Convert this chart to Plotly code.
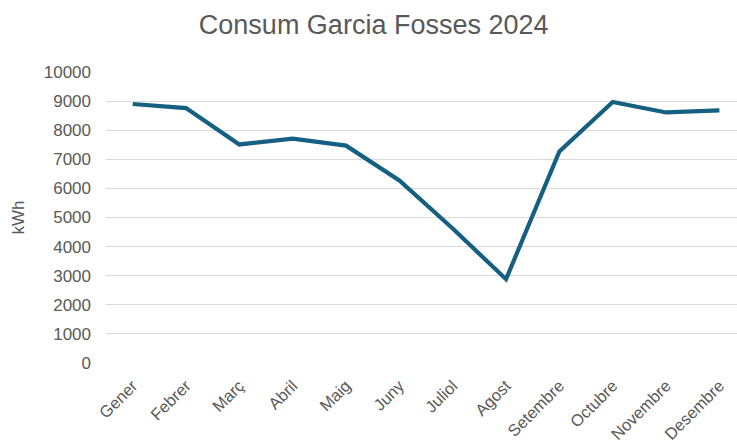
import plotly.graph_objects as go

# Monthly electricity consumption, 2024
months = ["Gener", "Febrer", "Març", "Abril", "Maig", "Juny",
          "Juliol", "Agost", "Setembre", "Octubre", "Novembre", "Desembre"]
consum_kwh = [8900, 8760, 7510, 7710, 7470, 6270,
              4620, 2880, 7270, 8970, 8610, 8680]
y_ticks = [0, 1000, 2000, 3000, 4000, 5000, 6000, 7000, 8000, 9000, 10000]

FONT = "Liberation Sans, Arial, sans-serif"
GREY = "#595959"

fig = go.Figure(
    go.Scatter(
        x=list(range(len(months))),
        y=consum_kwh,
        mode="lines",
        line=dict(color="#156082", width=4.2),
        hoverinfo="skip",
    )
)

fig.update_layout(
    width=737,
    height=445,
    margin=dict(l=106, r=0, t=72, b=82),
    paper_bgcolor="white",
    plot_bgcolor="white",
    showlegend=False,
    title=dict(
        text="Consum Garcia Fosses 2024",
        x=0.507,
        xanchor="center",
        y=0.945,
        yanchor="middle",
        font=dict(family=FONT, size=27, color=GREY),
    ),
)

fig.update_xaxes(
    range=[-0.5, 11.33],
    tickmode="array",
    tickvals=list(range(len(months))),
    ticktext=months,
    tickangle=-45,
    tickfont=dict(family=FONT, size=16.5, color=GREY),
    showgrid=False,
    zeroline=False,
    showline=False,
    ticks="",
    automargin=False,
    ticklabelstandoff=9,
)

fig.update_yaxes(
    range=[0, 10000],
    tickmode="array",
    tickvals=y_ticks,
    ticktext=[str(v) for v in y_ticks],
    tickfont=dict(family=FONT, size=17, color=GREY),
    showgrid=True,
    gridcolor="#d9d9d9",
    gridwidth=1,
    zeroline=False,
    showline=False,
    ticks="",
    automargin=False,
    ticklabelstandoff=14,
    title=dict(text="kWh", font=dict(family=FONT, size=17, color=GREY), standoff=14),
)

fig.write_html("out.html")
